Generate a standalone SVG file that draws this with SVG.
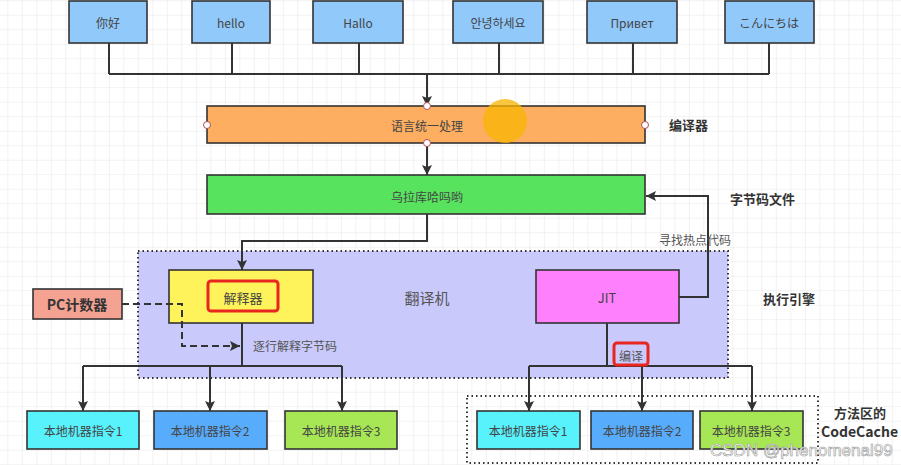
<svg xmlns="http://www.w3.org/2000/svg" width="901" height="465" viewBox="0 0 901 465">
<defs>
<pattern id="grid" x="8.3" y="1.2" width="14.5" height="14.5" patternUnits="userSpaceOnUse">
<path d="M14.5 0V14.5M0 14.5H14.5" fill="none" stroke="#e6e6e6" stroke-width="1"/>
</pattern>
<marker id="arr" viewBox="0 0 10 10" refX="10" refY="5" markerWidth="10" markerHeight="10" markerUnits="userSpaceOnUse" orient="auto">
<path d="M0 0L10 5L0 10L2 5Z" fill="#333"/>
</marker>
</defs>
<style>
.box{stroke:#333;stroke-width:1.6}
.t{font-family:"Noto Sans CJK SC","Noto Sans",sans-serif;font-size:12px;fill:#444;text-anchor:middle;dominant-baseline:central}
.lbl{font-family:"Noto Sans CJK SC","Noto Sans",sans-serif;font-size:13px;font-weight:bold;fill:#333;dominant-baseline:central}
.c{fill:none;stroke:#333;stroke-width:2}
.h{fill:#fff;stroke:#b05050;stroke-width:1}
.red{fill:none;stroke:#e8261f;stroke-width:3}
</style>
<rect width="901" height="465" fill="#fff"/>
<rect width="901" height="465" fill="url(#grid)"/>

<g id="engine">
<rect x="138" y="251" width="590" height="127" fill="#c9c9fb" stroke="#333" stroke-width="2" stroke-dasharray="1.5 3"/>
</g>
<g id="codecache">
<rect x="467" y="396" width="351" height="67" fill="none" stroke="#333" stroke-width="2" stroke-dasharray="1.5 3"/>
</g>

<g id="n-nihao"><rect class="box" x="69" y="1" width="78" height="42" fill="#92c9fb"/><text class="t" x="108" y="22">你好</text></g>
<g id="n-hello"><rect class="box" x="192" y="1" width="78" height="42" fill="#92c9fb"/><text class="t" x="231" y="22">hello</text></g>
<g id="n-hallo"><rect class="box" x="313" y="1" width="90" height="42" fill="#92c9fb"/><text class="t" x="358" y="22">Hallo</text></g>
<g id="n-ko"><rect class="box" x="453" y="1" width="90" height="42" fill="#92c9fb"/><text class="t" x="498" y="22" style="font-family:'Noto Sans CJK KR',sans-serif">안녕하세요</text></g>
<g id="n-ru"><rect class="box" x="587" y="1" width="90" height="42" fill="#92c9fb"/><text class="t" x="632" y="22">Привет</text></g>
<g id="n-ja"><rect class="box" x="725" y="1" width="89" height="42" fill="#92c9fb"/><text class="t" x="769" y="22" style="font-family:'Noto Sans CJK JP',sans-serif">こんにちは</text></g>

<g id="n-compile">
<rect class="box" x="207" y="106" width="438" height="37" fill="#fdae60"/>
<circle cx="505" cy="121" r="22" fill="#f8b400" opacity="0.75"/>
<text class="t" x="427" y="125">语言统一处理</text>
</g>
<g id="n-bytecode"><rect class="box" x="207" y="175" width="438" height="39" fill="#58e35f"/><text class="t" x="427" y="196">乌拉库哈吗哟</text></g>

<g id="n-interp">
<rect class="box" x="169" y="270" width="144" height="53" fill="#fef35a"/>
<rect class="red" x="208" y="281" width="70" height="30" rx="3"/>
<text class="t" x="243" y="297" style="font-size:13px">解释器</text>
</g>
<g id="n-jit"><rect class="box" x="536" y="270" width="143" height="53" fill="#ff80fd"/><text class="t" x="607" y="297" style="font-size:13px">JIT</text></g>
<g id="n-pc"><rect class="box" x="33" y="289" width="89" height="30" fill="#f4a292"/><text class="t" x="77" y="304" style="font-size:14px;font-weight:bold;fill:#333">PC计数器</text></g>

<g id="l1"><rect class="box" x="27" y="411" width="112" height="38" fill="#58f2fd"/><text class="t" x="83" y="430">本地机器指令1</text></g>
<g id="l2"><rect class="box" x="154" y="411" width="113" height="38" fill="#58acfc"/><text class="t" x="210" y="430">本地机器指令2</text></g>
<g id="l3"><rect class="box" x="285" y="411" width="112" height="38" fill="#a7e655"/><text class="t" x="341" y="430">本地机器指令3</text></g>
<g id="r1"><rect class="box" x="477" y="411" width="103" height="38" fill="#58f2fd"/><text class="t" x="528" y="430">本地机器指令1</text></g>
<g id="r2"><rect class="box" x="591" y="411" width="102" height="38" fill="#58acfc"/><text class="t" x="642" y="430">本地机器指令2</text></g>
<g id="r3"><rect class="box" x="700" y="411" width="103" height="38" fill="#a7e655"/><text class="t" x="751" y="430">本地机器指令3</text></g>

<g id="connectors">
<path class="c" d="M109 43V74M232 43V74M359 43V74M499 43V74M633 43V74M769 43V74M109 74H769"/>
<path class="c" d="M427 74V106" marker-end="url(#arr)"/>
<path class="c" d="M427 143V175" marker-end="url(#arr)"/>
<path class="c" d="M427 214V241H242V270" marker-end="url(#arr)"/>
<path class="c" d="M679 297H708V196H646" marker-end="url(#arr)"/>
<path class="c" d="M242 323V366M83 366H342"/>
<path class="c" d="M83 366V411" marker-end="url(#arr)"/>
<path class="c" d="M210 366V411" marker-end="url(#arr)"/>
<path class="c" d="M342 366V411" marker-end="url(#arr)"/>
<path class="c" d="M607 323V366M529 366H752"/>
<path class="c" d="M529 366V411" marker-end="url(#arr)"/>
<path class="c" d="M642 366V411" marker-end="url(#arr)"/>
<path class="c" d="M752 366V411" marker-end="url(#arr)"/>
<path class="c" d="M122 304H182V346H240" stroke-dasharray="7 4" marker-end="url(#arr)"/>
</g>

<g id="handles">
<circle class="h" cx="427" cy="106" r="3.5"/><circle class="h" cx="427" cy="143" r="3.5"/>
<circle class="h" cx="207" cy="125" r="3.5"/><circle class="h" cx="645" cy="125" r="3.5"/>
</g>

<g id="labels">
<text class="t" x="427" y="297" style="font-size:15px;fill:#555">翻译机</text>
<text class="t" x="295" y="345" style="fill:#555">逐行解释字节码</text>
<text class="t" x="695" y="239" style="fill:#555">寻找热点代码</text>
<rect class="red" x="614" y="343" width="34" height="22" rx="3"/>
<text class="t" x="631" y="355" style="fill:#555">编译</text>
<text class="lbl" x="669" y="124">编译器</text>
<text class="lbl" x="730" y="198">字节码文件</text>
<text class="lbl" x="763" y="298">执行引擎</text>
<text class="lbl" x="834" y="412">方法区的</text>
<text class="lbl" x="821" y="431" style="font-size:14px">CodeCache</text>
<text x="710" y="456" style="font-family:'Liberation Sans',Arial,sans-serif;font-size:17px;fill:#fff;stroke:#999;stroke-width:0.6">CSDN @phenomenal99</text>
</g>
</svg>
